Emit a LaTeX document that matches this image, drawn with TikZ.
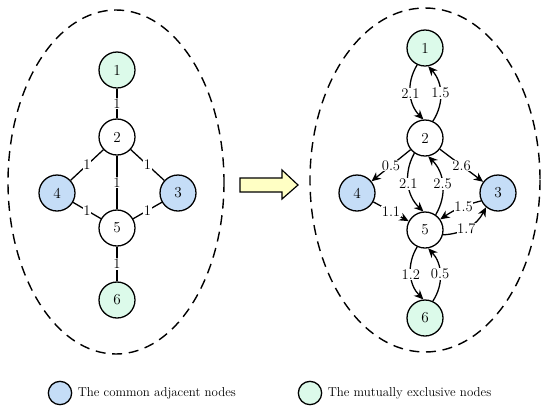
\documentclass[tikz,border=0pt]{standalone}
\usepackage{tikz}
\usetikzlibrary{arrows.meta, positioning}
\definecolor{adjblue}{HTML}{C5DDF7}
\definecolor{mexgreen}{HTML}{DCFAEA}
\definecolor{pointyellow}{HTML}{FFFFC4}
\tikzset{
  vtx/.style={draw, circle, line width=1.1pt, minimum size=10.8mm, inner sep=0pt, fill=white, font=\fontsize{13}{15}\selectfont},
  adj/.style={vtx, fill=adjblue},
  mex/.style={vtx, fill=mexgreen},
  ln/.style={line width=1.1pt},
  arr/.style={-{Stealth[length=2.8mm, width=2.5mm]}, line width=1.1pt},
  wt/.style={fill=white, inner sep=0.6pt, font=\fontsize{12.5}{14}\selectfont},
  region/.style={dash pattern=on 3mm off 2mm, line width=1.2pt},
  key/.style={draw, circle, line width=1.1pt, minimum size=7mm, inner sep=0pt},
  keytext/.style={font=\fontsize{11}{13}\selectfont},
}

\begin{document}
\begin{tikzpicture}[x=0.3mm, y=-0.3mm]
    \useasboundingbox (0,0) rectangle (550,409);
    % the two regions
    \draw[region] (116,182) ellipse [x radius=108, y radius=172];
    \draw[region] (425,180) ellipse [x radius=115, y radius=172];

    % left graph
    \node[mex] (l1) at (117,70) {1};
    \node[vtx] (l2) at (117,137) {2};
    \node[adj] (l3) at (178,193) {3};
    \node[adj] (l4) at (57,193) {4};
    \node[vtx] (l5) at (117,228) {5};
    \node[mex] (l6) at (117,300) {6};
    \draw[ln] (l1) -- node[wt] {1} (l2);
    \draw[ln] (l2) -- node[wt] {1} (l4);
    \draw[ln] (l2) -- node[wt] {1} (l3);
    \draw[ln] (l2) -- node[wt] {1} (l5);
    \draw[ln] (l4) -- node[wt] {1} (l5);
    \draw[ln] (l3) -- node[wt] {1} (l5);
    \draw[ln] (l5) -- node[wt] {1} (l6);

    % pointer
    \draw[line width=1pt, fill=pointyellow] (240,178) -- (282,178) -- (282,170) -- (298,185)
      -- (282,199) -- (282,192) -- (240,192) -- cycle;

    % right graph
    \node[mex] (r1) at (425,48) {1};
    \node[vtx] (r2) at (425,138) {2};
    \node[adj] (r3) at (498,193) {3};
    \node[adj] (r4) at (357,193) {4};
    \node[vtx] (r5) at (425,230) {5};
    \node[mex] (r6) at (425,318) {6};
    \draw[arr] (r1.245) to[bend right=38] node[wt] {2.1} (r2.95);
    \draw[arr] (r2.65) to[bend right=38] node[wt] {1.5} (r1.280);
    \draw[arr] (r2.235) to[bend right=38] node[wt] {2.1} (r5.95);
    \draw[arr] (r5.55) to[bend right=38] node[wt] {2.5} (r2.280);
    \draw[arr] (r5.245) to[bend right=38] node[wt] {1.2} (r6.95);
    \draw[arr] (r6.65) to[bend right=38] node[wt] {0.5} (r5.280);
    \draw[arr] (r2) -- node[wt] {0.5} (r4);
    \draw[arr] (r2) -- node[wt] {2.6} (r3);
    \draw[arr] (r4) -- node[wt] {1.1} (r5);
    \draw[arr] (r3.205) to[bend right=10] node[wt, pos=0.4] {1.5} (r5.35);
    \draw[arr] (r5.345) to[bend right=30] node[wt, pos=0.45] {1.7} (r3.230);

    % key
    \node[key, fill=adjblue] (kadj) at (60,393) {};
    \node[keytext, right=0.4mm of kadj] (tadj) {The common adjacent nodes};
    \node[key, fill=mexgreen] (kmex) at (310,393) {};
    \node[keytext, right=0.4mm of kmex] (tmex) {The mutually exclusive nodes};
\end{tikzpicture}
\end{document}
